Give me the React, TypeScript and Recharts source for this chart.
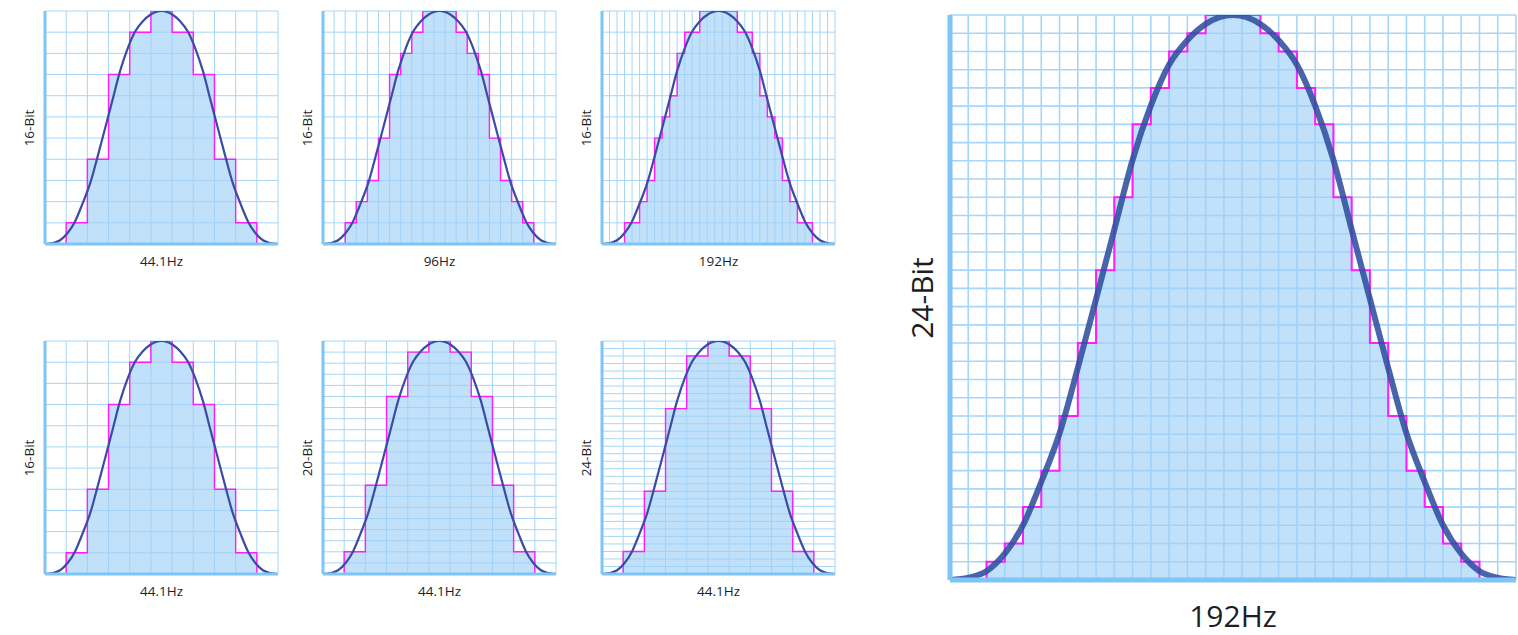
import React from 'react';
import { ComposedChart, Area, Line, XAxis, YAxis, CartesianGrid, ReferenceLine } from 'recharts';

// quantised levels per column
const steps16at44 = [0, 1, 4, 8, 10, 11, 10, 8, 4, 1, 0];
const steps16at96 = [0, 0, 1, 2, 3, 5, 8, 9, 10, 11, 11, 11, 10, 9, 8, 5, 3, 2, 1, 0, 0];
const steps16at192 = [0, 0, 0, 1, 1, 2, 3, 5, 6, 7, 9, 10, 10, 11, 11, 11, 11, 11, 10, 10, 9, 7, 6, 5, 3, 2, 1, 1, 0, 0, 0];
const steps20at44 = [0, 2, 8, 16, 20, 21, 20, 16, 8, 2, 0];
const steps24at44 = [0, 3, 11, 22, 29, 31, 29, 22, 11, 3, 0];
const steps24at192 = [0, 0, 1, 2, 4, 6, 9, 13, 17, 21, 25, 27, 29, 30, 31, 31, 31, 30, 29, 27, 25, 21, 17, 13, 9, 6, 4, 2, 1, 0, 0];

// the analog curve, normalised 0..1 on both axes
const curveX = [0, 0.033, 0.065, 0.097, 0.129, 0.161, 0.194, 0.226, 0.258, 0.29, 0.323, 0.355, 0.387, 0.419, 0.452, 0.476, 0.5,
  0.524, 0.548, 0.581, 0.613, 0.645, 0.677, 0.71, 0.742, 0.774, 0.806, 0.839, 0.871, 0.903, 0.935, 0.967, 1];
const curveY = [0, 0.004, 0.016, 0.047, 0.097, 0.173, 0.261, 0.376, 0.497, 0.619, 0.745, 0.84, 0.912, 0.955, 0.984, 0.996, 1,
  0.996, 0.984, 0.955, 0.912, 0.84, 0.745, 0.619, 0.497, 0.376, 0.261, 0.173, 0.097, 0.047, 0.016, 0.004, 0];

const GRID = '#a6d6f8';
const AXIS = '#7ec4f6';
const FILL = '#9fd0f7';
const MAGENTA = '#ff1cff';
const CURVE = '#3a4ca3';
const CURVE_BIG = '#2f4f9e';

const curveData = curveX.map((x, i) => ({ x, y: curveY[i] }));

interface PanelProps {
  left: number;
  top: number;
  width: number;
  height: number;
  steps: number[];
  rows: number;
  xLabel: string;
  yLabel: string;
  big?: boolean;
}

function Panel({ left, top, width, height, steps, rows, xLabel, yLabel, big }: PanelProps) {
  const pad = 6;
  const cols = steps.length;
  const stepData = [...steps, 0].map((v, i) => ({ x: i, v }));
  const xTicks = stepData.map(d => d.x);
  const yTicks = Array.from({ length: rows + 1 }, (_, i) => i);
  const fontSize = big ? 30 : 13.5;

  return (
    <>
      <div style={{ position: 'absolute', left: left - pad, top: top - pad }}>
        <ComposedChart
          width={width + pad * 2}
          height={height + pad * 2}
          margin={{ top: pad, right: pad, bottom: pad, left: pad }}
        >
          <XAxis xAxisId="m" type="number" dataKey="x" domain={[0, cols]} ticks={xTicks} interval={0} allowDataOverflow hide />
          <YAxis yAxisId="m" type="number" domain={[0, rows]} ticks={yTicks} interval={0} allowDataOverflow hide />
          <XAxis xAxisId="c" type="number" dataKey="x" domain={[0, 1]} allowDataOverflow hide />
          <YAxis yAxisId="c" type="number" domain={[0, 1]} allowDataOverflow hide />
          <CartesianGrid xAxisId="m" yAxisId="m" stroke={GRID} strokeWidth={big ? 1.6 : 1} />
          <Area
            xAxisId="m"
            yAxisId="m"
            data={stepData}
            dataKey="v"
            type="stepAfter"
            stroke={MAGENTA}
            strokeWidth={big ? 2 : 1.4}
            fill={FILL}
            fillOpacity={0.65}
            isAnimationActive={false}
          />
          <Line
            xAxisId="c"
            yAxisId="c"
            data={curveData}
            dataKey="y"
            type="monotone"
            stroke={big ? CURVE_BIG : CURVE}
            strokeOpacity={big ? 0.88 : 1}
            strokeWidth={big ? 6 : 2.2}
            dot={false}
            isAnimationActive={false}
          />
          <ReferenceLine xAxisId="m" yAxisId="m" x={0} stroke={AXIS} strokeWidth={big ? 5 : 3} />
          <ReferenceLine xAxisId="m" yAxisId="m" y={0} stroke={AXIS} strokeWidth={big ? 5 : 3} />
        </ComposedChart>
      </div>
      <div
        style={{
          position: 'absolute',
          left: left - (big ? 28 : 15),
          top: top + height / 2,
          transform: 'translate(-50%, -50%) rotate(-90deg)',
          fontSize,
          lineHeight: 1,
          whiteSpace: 'nowrap',
          color: '#1e1e1e',
        }}
      >
        {yLabel}
      </div>
      <div
        style={{
          position: 'absolute',
          left: left + width / 2,
          top: top + height + (big ? 36 : 18),
          transform: 'translate(-50%, -50%)',
          fontSize,
          lineHeight: 1,
          whiteSpace: 'nowrap',
          color: '#1e1e1e',
        }}
      >
        {xLabel}
      </div>
    </>
  );
}

export default function App() {
  return (
    <div
      style={{
        position: 'absolute',
        left: 0,
        top: 0,
        width: 1518,
        height: 635,
        background: '#fff',
        fontFamily: '"Open Sans", "Noto Sans", sans-serif',
        overflow: 'hidden',
      }}
    >
      <Panel left={45} top={11} width={233} height={233} steps={steps16at44} rows={11} xLabel="44.1Hz" yLabel="16-Bit" />
      <Panel left={323} top={11} width={233} height={233} steps={steps16at96} rows={11} xLabel="96Hz" yLabel="16-Bit" />
      <Panel left={602} top={11} width={233} height={233} steps={steps16at192} rows={11} xLabel="192Hz" yLabel="16-Bit" />
      <Panel left={45} top={341} width={233} height={233} steps={steps16at44} rows={11} xLabel="44.1Hz" yLabel="16-Bit" />
      <Panel left={323} top={341} width={233} height={233} steps={steps20at44} rows={21} xLabel="44.1Hz" yLabel="20-Bit" />
      <Panel left={602} top={341} width={233} height={233} steps={steps24at44} rows={31} xLabel="44.1Hz" yLabel="24-Bit" />
      <Panel left={950} top={15} width={566} height={565} steps={steps24at192} rows={31} xLabel="192Hz" yLabel="24-Bit" big />
    </div>
  );
}
